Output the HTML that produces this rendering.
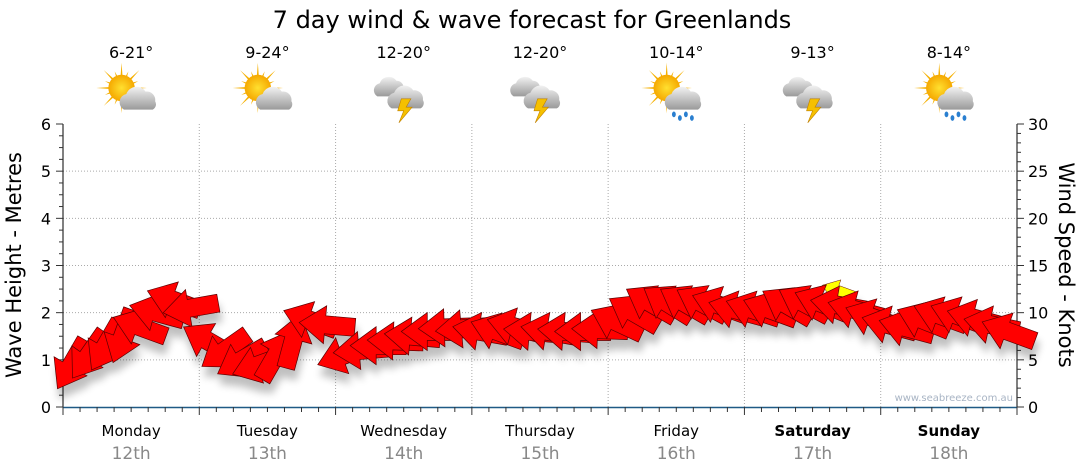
<!DOCTYPE html>
<html><head><meta charset="utf-8"><style>
body{margin:0;background:#fff;}
svg{display:block;font-family:"DejaVu Sans","Liberation Sans",sans-serif;}
</style></head><body>
<svg id="c" width="1080" height="475" viewBox="0 0 1080 475">
<defs>
<filter id="sh" x="-50%" y="-50%" width="200%" height="250%"><feGaussianBlur in="SourceAlpha" stdDeviation="4"/><feOffset dy="10" dx="2"/><feComponentTransfer><feFuncA type="linear" slope="0.25"/></feComponentTransfer><feMerge><feMergeNode/><feMergeNode in="SourceGraphic"/></feMerge></filter>
<radialGradient id="sun" cx="0.5" cy="0.5" r="0.5"><stop offset="0" stop-color="#ffe030"/><stop offset="1" stop-color="#f5a800"/></radialGradient>
<linearGradient id="cl" x1="0" y1="0" x2="0" y2="1"><stop offset="0" stop-color="#f2f2f2"/><stop offset="1" stop-color="#9a9a9a"/></linearGradient>
</defs>
<text x="532" y="28" font-size="24" text-anchor="middle" fill="#000">7 day wind &amp; wave forecast for Greenlands</text>
<g id="grid"></g><g id="axes"></g><g id="icons"></g><g id="marks" filter="url(#sh)"></g>
<text x="1013" y="401" font-size="10" text-anchor="end" fill="#a8b4c4">www.seabreeze.com.au</text>
<text transform="translate(21,265) rotate(-90)" font-size="21" text-anchor="middle">Wave Height - Metres</text>
<text transform="translate(1059,265) rotate(90)" font-size="21" text-anchor="middle">Wind Speed - Knots</text>
</svg>
<script>
const days=["Monday","Tuesday","Wednesday","Thursday","Friday","Saturday","Sunday"];
const dates=["12th","13th","14th","15th","16th","17th","18th"];
const temps=["6-21°","9-24°","12-20°","12-20°","10-14°","9-13°","8-14°"];
const iconTypes=["suncloud","suncloud","storm","storm","sunrain","storm","sunrain"];
const waveTicks=[0,1,2,3,4,5,6];
const windTicks=[0,5,10,15,20,25,30];
// wind speed (knots) every 3 hours
const windSpeed=[4.5,5.5,6.5,7.5,8.5,10,11.3,10.5, 7,6,5,4.5,5.5,7,9.2,8.7, 5.5,6,6.5,7,7.5,8,8.4,8.3, 8,8,8.5,8,8,8,8,8.2, 9,10,11,11,11,11,10.8,10.3, 10.3,10.3,10.8,11,11,10.8,10.3,9.5, 8.7,8.4,9.2,9.7,9.7,9.4,8.7,8];
// direction the arrow points (screen degrees, 0 = right, 90 = up)
const windDir=[240,235,240,250,160,165,160,190, 150,215,210,200,60,75,160,175, 200,185,180,178,175,180,182,185, 170,160,165,175,170,175,180,178, 155,150,150,148,150,152,160,165, 162,160,150,152,158,170,165,160, 165,165,158,160,160,165,168,160];
const gust=[{i:45,v:12.3}];

const X0=63,X1=1017,Y0=407,Y1=124,NS='http://www.w3.org/2000/svg';
const dayW=(X1-X0)/7;
const xs=i=>X0+(i+0.5)*dayW/8;
const yWind=v=>Y0-(v/30)*(Y0-Y1);
const yWave=v=>Y0-(v/6)*(Y0-Y1);
function el(tag,attrs,parent,txt){const e=document.createElementNS(NS,tag);for(const k in attrs)e.setAttribute(k,attrs[k]);if(txt!==undefined)e.textContent=txt;parent.appendChild(e);return e;}
const grid=document.getElementById('grid'),axes=document.getElementById('axes'),icons=document.getElementById('icons'),marks=document.getElementById('marks');
waveTicks.forEach(t=>{if(t>0&&t<6){const g=el('line',{x1:X0,x2:X1,y1:yWave(t),y2:yWave(t),stroke:'#aaa','stroke-dasharray':'1,2'},grid);

}});
for(let d=1;d<7;d++){const g=el('line',{x1:X0+d*dayW,x2:X0+d*dayW,y1:Y1,y2:Y0,stroke:'#aaa','stroke-dasharray':'1,2'},grid);

}
el('line',{x1:X0,x2:X0,y1:Y1,y2:Y0,stroke:'#000'},axes);
el('line',{x1:X1,x2:X1,y1:Y1,y2:Y0,stroke:'#000'},axes);
el('line',{x1:X0,x2:X1,y1:Y0+0.5,y2:Y0+0.5,stroke:'#1f5a85','stroke-width':1.5},axes);
for(let k=0;k<=24;k++){const y=Y0-k*(Y0-Y1)/24;el('line',{x1:X0-(k%4?4:7),x2:X0,y1:y,y2:y,stroke:'#333'},axes);}
for(let k=0;k<=30;k++){const y=yWind(k);el('line',{x1:X1,x2:X1+(k%5?4:7),y1:y,y2:y,stroke:'#333'},axes);}
waveTicks.forEach(t=>{const e=el('text',{x:51,y:yWave(t)+6,'font-size':16,'text-anchor':'end'},axes,t);

});
windTicks.forEach(t=>{const e=el('text',{x:1028,y:yWind(t)+6,'font-size':16},axes,t);

});
for(let k=0;k<=56;k++){const x=X0+k*dayW/8;el('line',{x1:x,x2:x,y1:Y0,y2:Y0+(k%8?5:8),stroke:'#333'},axes);}
days.forEach((d,i)=>{const cx=X0+(i+0.5)*dayW;const b=(i>=5)?'bold':'normal';
const a=el('text',{x:cx,y:436,'font-size':15,'text-anchor':'middle','font-weight':b},axes,d);


const c=el('text',{x:cx,y:459,'font-size':17,'text-anchor':'middle',fill:'#888'},axes,dates[i]);


const t=el('text',{x:cx,y:58,'font-size':16,'text-anchor':'middle'},icons,temps[i]);


const g=el('g',{transform:`translate(${cx},94) scale(1.2)`},icons);


const ty=iconTypes[i];
if(ty!=='storm'){for(let r=0;r<16;r++){const a2=r*Math.PI/8;const L=r%2?15:21;el('polygon',{points:`${-8+Math.cos(a2+0.12)*8},${-5+Math.sin(a2+0.12)*8} ${-8+Math.cos(a2)*L},${-5+Math.sin(a2)*L} ${-8+Math.cos(a2-0.12)*8},${-5+Math.sin(a2-0.12)*8}`,fill:'#f5b000'},g);}
el('circle',{cx:-8,cy:-5,r:11,fill:'url(#sun)'},g);
el('path',{d:'M-6 13 a7 7 0 0 1 2-13 a9 9 0 0 1 16-2 a7 7 0 0 1 8 8 a5 5 0 0 1 -2 7 z',fill:'url(#cl)'},g);
if(ty==='sunrain'){for(let r=0;r<4;r++)el('ellipse',{cx:-2+r*5,cy:17+(r%2)*3,rx:1.6,ry:2.4,fill:'#2a7fd0'},g);}}
else{el('path',{d:'M-22 2 a6 6 0 0 1 2-11 a8 8 0 0 1 14-2 a6 6 0 0 1 6 7 a4 4 0 0 1 -2 6 z',fill:'url(#cl)'},g);
el('path',{d:'M-10 12 a7 7 0 0 1 2-13 a9 9 0 0 1 16-2 a7 7 0 0 1 8 8 a5 5 0 0 1 -2 7 z',fill:'url(#cl)'},g);
el('polygon',{points:'-2,4 6,4 2,11 7,11 -4,24 0,14 -5,14',fill:'#f5c000',stroke:'#c08000','stroke-width':0.5},g);}
});
function arrow(x,y,deg,fill,name,s){const g=el('g',{transform:`translate(${x},${y}) rotate(${-deg}) scale(${s})`},marks);


el('polygon',{points:'-28,-9 2,-9 2,-19 28,0 2,19 2,9 -28,9',fill:fill,stroke:'#5a0000','stroke-width':0.7},g);}
gust.forEach(g=>arrow(xs(g.i),yWind(g.v),160,'#ffff00','gust-arrow',0.6));
windSpeed.forEach((v,i)=>arrow(xs(i),yWind(v),windDir[i],'#ff0000','wind-arrow',1));
</script>
</body></html>
